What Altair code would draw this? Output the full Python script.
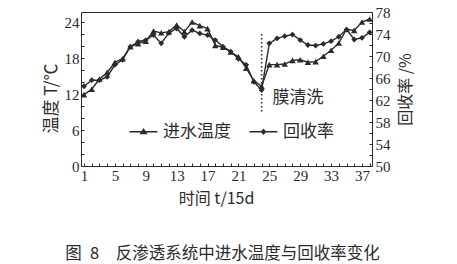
import altair as alt
import pandas as pd

# ---- data ----
days = list(range(1, 39))
temp = [11.9, 12.8, 14.5, 15.6, 17.3, 17.9, 19.9, 20.4, 20.8, 22.5,
        22.2, 22.4, 23.5, 22.4, 24.0, 23.4, 22.9, 20.1, 19.8, 19.0,
        18.2, 16.3, 14.2, 13.3, 16.9, 16.9, 17.0, 17.6, 17.7, 17.3,
        17.4, 18.3, 19.3, 20.5, 22.8, 22.6, 24.0, 24.5]
recovery = [64.5, 65.6, 65.6, 66.2, 68.4, 69.3, 71.7, 72.6, 72.9, 73.8,
            72.3, 74.2, 75.0, 73.5, 74.7, 74.1, 73.8, 72.9, 71.7, 70.8,
            69.5, 68.4, 65.3, 63.8, 72.3, 73.2, 73.6, 73.9, 72.9, 72.0,
            71.9, 72.2, 72.7, 73.5, 74.8, 73.0, 73.3, 74.3]
series_names = ["进水温度", "回收率"]
cleaning_day = [24]
cleaning_label = ["膜清洗"]
x_tick_values = list(range(1, 39))
left_tick_values = list(range(0, 26, 2))
right_tick_values = list(range(50, 80, 2))

C = "#2b2b2b"
CJK = "Noto Sans CJK SC"
NUM = "Liberation Serif"

df = pd.DataFrame({"day": days, "temp": temp, "rec": recovery})
clean_df = pd.DataFrame({"day": cleaning_day, "label": cleaning_label})
legend_df = pd.DataFrame({"series": series_names, "day": [1, 1]})

xscale = alt.Scale(domain=[0.61, 38.3], nice=False, zero=False)
x_axis = alt.Axis(values=x_tick_values,
                  labelExpr="(datum.value - 1) % 4 == 0 ? datum.label : ''",
                  domain=False, offset=-3, tickSize=3, tickColor=C, tickWidth=1,
                  labelFont=NUM, labelFontSize=15, labelColor=C, labelPadding=2,
                  labelFlush=False, labelOverlap=False, grid=False,
                  title="时间 t/15d", titleFont=CJK, titleFontSize=16,
                  titleFontWeight="normal", titleColor=C,
                  titleX=135, titleY=35, titleAlign="center", titleBaseline="middle")
X = alt.X("day:Q", scale=xscale, axis=x_axis)

lscale = alt.Scale(domain=[0, 25.67], nice=False, zero=False)
left_axis = alt.Axis(values=left_tick_values, orient="left",
                     labelExpr="datum.value % 6 == 0 ? datum.label : ''",
                     domain=False, offset=-3, tickSize=3, tickColor=C,
                     labelFont=NUM, labelFontSize=15, labelColor=C, labelPadding=2,
                     labelFlush=False, labelOverlap=False, grid=False,
                     title="温度 T/℃", titleFont=CJK, titleFontSize=17,
                     titleFontWeight="normal", titleColor=C,
                     titleX=-33, titleY=86, titleAngle=-90,
                     titleAlign="center", titleBaseline="middle")

rscale = alt.Scale(domain=[50, 78], nice=False, zero=False)
right_axis = alt.Axis(values=right_tick_values, orient="right",
                      labelExpr="(datum.value - 50) % 4 == 0 ? datum.label : ''",
                      domain=False, offset=-3, tickSize=3, tickColor=C,
                      labelFont=NUM, labelFontSize=15, labelColor=C, labelPadding=3,
                      labelFlush=False, labelOverlap=False, grid=False,
                      title="回收率 /%", titleFont=CJK, titleFontSize=16,
                      titleFontWeight="normal", titleColor=C,
                      titleX=36, titleY=77, titleAngle=-90,
                      titleAlign="center", titleBaseline="middle")

base = alt.Chart(df)
YT = alt.Y("temp:Q", scale=lscale, axis=left_axis)
YR = alt.Y("rec:Q", scale=rscale, axis=right_axis)

temp_line = base.mark_line(color=C, strokeWidth=1.4).encode(x=X, y=YT)
temp_pts = base.mark_point(shape="triangle-up", filled=True, size=42,
                           color=C, opacity=1).encode(x=X, y=YT)

rule = alt.Chart(clean_df).mark_rule(color=C, strokeWidth=1.6,
                                     strokeDash=[1.5, 2.5]).encode(
    x=X, y=alt.value(22), y2=alt.value(101))
note = alt.Chart(clean_df).mark_text(align="left", baseline="middle", dx=11,
                                     font=CJK, fontSize=17, color=C).encode(
    x=X, y=alt.value(86), text="label:N")

left = alt.layer(temp_line, temp_pts, rule, note)

rec_line = base.mark_line(color=C, strokeWidth=1.4).encode(x=X, y=YR)
rec_pts = base.mark_point(shape="diamond", filled=True, size=34,
                          color=C, opacity=1).encode(x=X, y=YR)
right = alt.layer(rec_line, rec_pts)

# legend symbols: a short line (thin filled bar) with the series marker on it
tri_path = ("M-3.5,-0.16H3.5V0.16H-3.5Z"
            "M0,-0.95L1.0,0.6L-1.0,0.6Z")
dia_path = ("M-3.5,-0.16H3.5V0.16H-3.5Z"
            "M0,-0.8L0.7,0L0,0.8L-0.7,0Z")
legend_layer = alt.Chart(legend_df).mark_point(
    filled=True, opacity=0, color=C
).encode(
    x=X, y=alt.value(10),
    shape=alt.Shape("series:N",
                    scale=alt.Scale(domain=series_names, range=[tri_path, dia_path]),
                    legend=alt.Legend(orient="none", legendX=54, legendY=111,
                                      direction="horizontal", title=None,
                                      symbolOpacity=1, symbolFillColor=C,
                                      symbolStrokeWidth=0,
                                      symbolSize=64, labelFont=CJK, labelFontSize=17,
                                      labelColor=C, labelOffset=11,
                                      columnPadding=18, padding=0)))

chart = alt.layer(left, right, legend_layer).resolve_scale(
    y="independent", shape="independent"
).properties(
    width=291, height=154,
    autosize="none",
    padding={"left": 81, "top": 12, "right": 85, "bottom": 98},
    title=alt.TitleParams(text="图\u20028\u2003反渗透系统中进水温度与回收率变化",
                          orient="bottom", anchor="middle", font=CJK,
                          fontSize=16.5, fontWeight="normal", color=C, offset=40, dx=-4),
    background="white",
).configure_view(stroke=C, strokeWidth=1)

chart.save("out.html", embed_options={"renderer": "svg", "actions": False})
